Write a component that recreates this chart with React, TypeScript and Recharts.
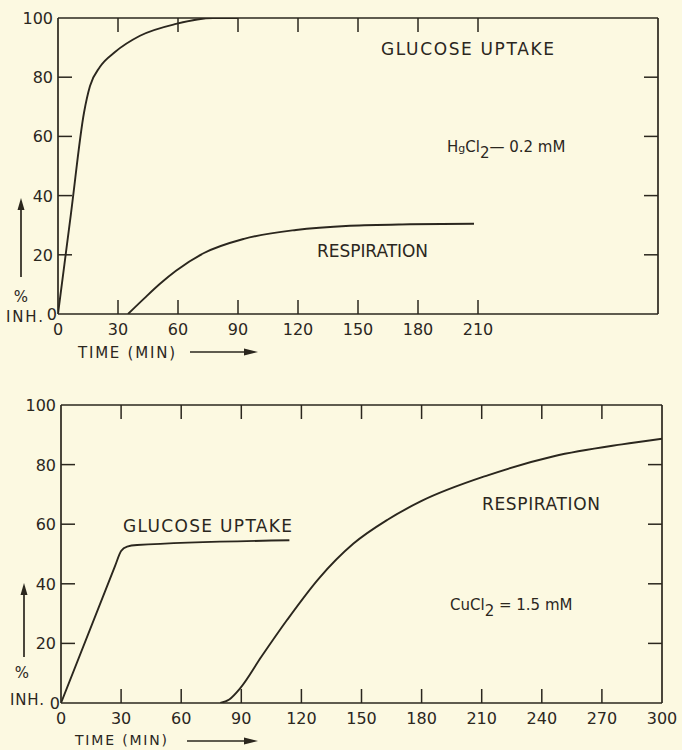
import { LineChart, Line, XAxis, YAxis } from 'recharts';

const BG = '#fcf9e1';
const INK = '#2b271e';
const FONT = '"DejaVu Sans", Verdana, sans-serif';
const TICK = 14;

// shared axis ticks
const inhTicks = [0, 20, 40, 60, 80, 100];

// HgCl2 panel (top)
const hgTimeTicks = [0, 30, 60, 90, 120, 150, 180, 210];
const hgGlucoseTime = [0, 6.5, 13, 16, 21, 28.5, 41, 59, 77.5, 90];
const hgGlucoseInh = [0, 34, 68, 77, 83.5, 88.5, 94, 98, 100, 100];
const hgRespTime = [35, 43, 51, 59, 73, 93, 119, 146, 176, 208];
const hgRespInh = [0, 5.2, 10.2, 14.6, 20.6, 25.4, 28.4, 29.8, 30.3, 30.5];

// CuCl2 panel (bottom)
const cuTimeTicks = [0, 30, 60, 90, 120, 150, 180, 210, 240, 270, 300];
const cuGlucoseTime = [0, 27, 30, 33, 38, 114];
const cuGlucoseInh = [0, 46, 51, 52.5, 53, 54.6];
const cuRespTime = [79.5, 84, 89.5, 100, 113, 129, 146, 163, 180, 213, 246, 280, 300];
const cuRespInh = [0, 1.2, 5, 15.5, 28, 42, 53.5, 61.5, 67.8, 76.4, 82.8, 86.8, 88.7];

const zip = (ts: number[], vs: number[]) => ts.map((t, i) => ({ t, v: vs[i] }));

const txt = { fontFamily: FONT, fill: INK } as const;

function BottomTick(props: any) {
  const { x, y, payload, max, labels } = props;
  const v = payload.value;
  return (
    <g>
      {v > 0 && v < max && <line x1={x} y1={y} x2={x} y2={y - TICK} stroke={INK} strokeWidth={1.5} />}
      {labels && (
        <text x={x} y={y + 21} textAnchor="middle" fontSize={16} {...txt}>{v}</text>
      )}
    </g>
  );
}

function TopTick(props: any) {
  const { x, y, payload, max } = props;
  const v = payload.value;
  if (v <= 0 || v >= max) return <g />;
  return <line x1={x} y1={y} x2={x} y2={y + TICK} stroke={INK} strokeWidth={1.5} />;
}

function LeftTick(props: any) {
  const { x, y, payload } = props;
  const v = payload.value;
  return (
    <g>
      {v > 0 && v < 100 && <line x1={x} y1={y} x2={x + TICK} y2={y} stroke={INK} strokeWidth={1.5} />}
      <text x={v === 0 ? x - 1 : x - 5} y={y + 6} textAnchor="end" fontSize={16} {...txt}>{v}</text>
    </g>
  );
}

function RightTick(props: any) {
  const { x, y, payload } = props;
  const v = payload.value;
  if (v <= 0 || v >= 100) return <g />;
  return <line x1={x} y1={y} x2={x - TICK} y2={y} stroke={INK} strokeWidth={1.5} />;
}

function Panel({ width, height, margin, yWidth, xHeight, labelTicks, frameTicks, series }: any) {
  const axisLine = { stroke: INK, strokeWidth: 1.7 };
  return (
    <LineChart width={width} height={height} margin={margin}>
      <XAxis
        type="number" dataKey="t" domain={[0, 300]} ticks={labelTicks} interval={0}
        height={xHeight} tickSize={0} tickMargin={0} tickLine={false} axisLine={axisLine}
        tick={<BottomTick max={300} labels />} allowDataOverflow
      />
      <XAxis
        xAxisId="top" orientation="top" type="number" dataKey="t" domain={[0, 300]}
        ticks={frameTicks} interval={0} height={1} tickSize={0} tickMargin={0} tickLine={false}
        axisLine={axisLine} tick={<TopTick max={300} />} allowDataOverflow
      />
      <YAxis
        type="number" domain={[0, 100]} ticks={inhTicks} interval={0} width={yWidth}
        tickSize={0} tickMargin={0} tickLine={false} axisLine={axisLine} tick={<LeftTick />}
        allowDataOverflow
      />
      <YAxis
        yAxisId="right" orientation="right" type="number" domain={[0, 100]} ticks={inhTicks}
        interval={0} width={1} tickSize={0} tickMargin={0} tickLine={false} axisLine={axisLine}
        tick={<RightTick />} allowDataOverflow
      />
      {series.map((d: any[], i: number) => (
        <Line
          key={i} data={d} dataKey="v" type="monotone" stroke={INK} strokeWidth={1.9}
          dot={false} isAnimationActive={false}
        />
      ))}
    </LineChart>
  );
}

function UpArrow({ x, y1, y2 }: { x: number; y1: number; y2: number }) {
  return (
    <g>
      <line x1={x} y1={y1} x2={x} y2={y2 + 8} stroke={INK} strokeWidth={1.7} />
      <polygon points={`${x},${y2} ${x - 3.5},${y2 + 12} ${x + 3.5},${y2 + 12}`} fill={INK} />
    </g>
  );
}

function RightArrow({ x1, x2, y }: { x1: number; x2: number; y: number }) {
  return (
    <g>
      <line x1={x1} y1={y} x2={x2 - 8} y2={y} stroke={INK} strokeWidth={1.7} />
      <polygon points={`${x2},${y} ${x2 - 14},${y - 3.5} ${x2 - 14},${y + 3.5}`} fill={INK} />
    </g>
  );
}

export default function App() {
  const hgSeries = [zip(hgGlucoseTime, hgGlucoseInh), zip(hgRespTime, hgRespInh)];
  const cuSeries = [zip(cuGlucoseTime, cuGlucoseInh), zip(cuRespTime, cuRespInh)];
  const cuFrame = cuTimeTicks.filter(t => t > 0 && t < 300);

  return (
    <div style={{ position: 'absolute', left: 0, top: 0, width: 682, height: 750, background: BG, overflow: 'hidden' }}>
      <div style={{ position: 'absolute', left: 0, top: 0 }}>
        <Panel
          width={682} height={370} margin={{ top: 17, right: 23, left: 0, bottom: 0 }}
          yWidth={58} xHeight={56} labelTicks={hgTimeTicks} frameTicks={hgTimeTicks} series={hgSeries}
        />
      </div>
      <div style={{ position: 'absolute', left: 0, top: 370 }}>
        <Panel
          width={682} height={380} margin={{ top: 34, right: 19, left: 0, bottom: 0 }}
          yWidth={61} xHeight={47} labelTicks={cuTimeTicks} frameTicks={cuFrame} series={cuSeries}
        />
      </div>
      <svg width={682} height={750} style={{ position: 'absolute', left: 0, top: 0, pointerEvents: 'none' }}>
        {/* top panel labels */}
        <UpArrow x={21} y1={277} y2={198} />
        <text x={21} y={302} textAnchor="middle" fontSize={15} {...txt}>%</text>
        <text x={6} y={322} fontSize={15} textLength={37} {...txt}>INH.</text>
        <text x={78} y={358} fontSize={15} textLength={97} {...txt}>TIME (MIN)</text>
        <RightArrow x1={190} x2={258} y={352} />
        <text x={381} y={55} fontSize={17} textLength={173} {...txt}>GLUCOSE UPTAKE</text>
        <text x={317} y={257} fontSize={17} textLength={111} {...txt}>RESPIRATION</text>
        <text x={447} y={152} fontSize={15} {...txt}>
          H<tspan fontSize={11}>g</tspan>Cl<tspan dy={6}>2</tspan><tspan dy={-6}>— 0.2 mM</tspan>
        </text>

        {/* bottom panel labels */}
        <UpArrow x={24} y1={657} y2={583} />
        <text x={22} y={678} textAnchor="middle" fontSize={15} {...txt}>%</text>
        <text x={10} y={705} fontSize={15} textLength={34} {...txt}>INH.</text>
        <text x={75} y={745} fontSize={14} textLength={92} {...txt}>TIME (MIN)</text>
        <RightArrow x1={187} x2={258} y={741} />
        <text x={123} y={532} fontSize={17} textLength={169} {...txt}>GLUCOSE UPTAKE</text>
        <text x={482} y={510} fontSize={17} textLength={118} {...txt}>RESPIRATION</text>
        <text x={450} y={610} fontSize={15} {...txt}>
          CuCl<tspan dy={6}>2</tspan><tspan dy={-6}> = 1.5 mM</tspan>
        </text>
      </svg>
    </div>
  );
}
